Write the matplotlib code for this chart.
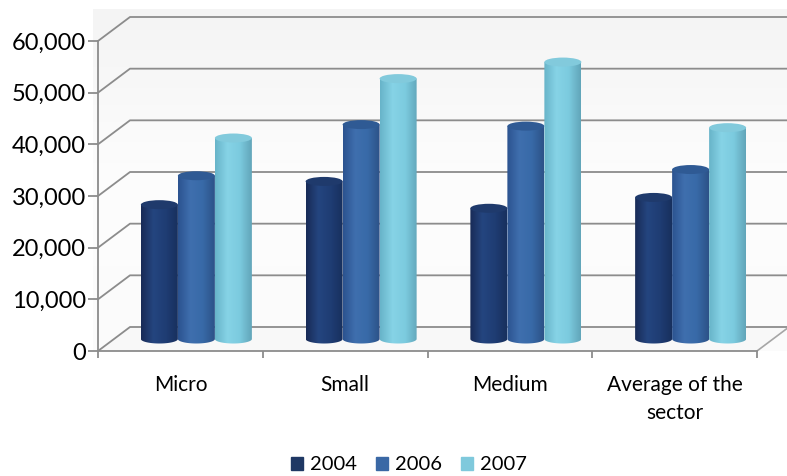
import numpy as np
import matplotlib
matplotlib.use('Agg')
import matplotlib.pyplot as plt
from matplotlib.colors import LinearSegmentedColormap
from matplotlib.patches import Patch, Ellipse, Polygon

categories = ['Micro', 'Small', 'Medium', 'Average of the\nsector']
years = ['2004', '2006', '2007']
values_2004 = [26000, 30500, 25300, 27400]
values_2006 = [31600, 41500, 41200, 32800]
values_2007 = [38900, 50400, 53600, 40900]
y_ticks = [0, 10000, 20000, 30000, 40000, 50000, 60000]

series = [values_2004, values_2006, values_2007]
legend_colors = ['#1f3864', '#3a68a5', '#7fc9dc']
bar_shades = [
    ['#182b57', '#24457f', '#1f3d74', '#18305e'],
    ['#2c5390', '#3f6fae', '#386aa8', '#2d5288'],
    ['#68b4c9', '#86d3e6', '#7ccbdf', '#62a6ba'],
]
cap_colors = ['#1f3a6c', '#2f5a94', '#82cadc']

plt.rcParams['font.family'] = ['Lato', 'DejaVu Sans']

fig = plt.figure(figsize=(7.87, 4.76), dpi=100)
ax = fig.add_axes([98 / 787, (476 - 351) / 476, 659 / 787, 310 / 476])
ax.set_xlim(0, 4)
ax.set_ylim(0, 60000)

# pixel sizes turned into data units for the fake 3d depth
px_x = 4 / 659
px_y = 60000 / 310
depth_x = 32 * px_x
depth_y = 24 * px_y
bar_w = 37 * px_x
cap_h = 9 * px_y

# walls
wall = LinearSegmentedColormap.from_list('wall', ['#fbfbfb', '#fdfdfd', '#f4f4f4'])
grad = np.linspace(0, 1, 100).reshape(-1, 1)
ax.imshow(grad, cmap=wall, origin='lower', aspect='auto', zorder=0, clip_on=False,
          extent=(-5 * px_x, 4 + 30 * px_x, 0, 60000 + depth_y + 7 * px_y))
ax.add_patch(Polygon([(0, 0), (4, 0), (4 + depth_x, depth_y), (depth_x, depth_y)],
                     closed=True, fc='#f8f8f8', ec='none', zorder=1, clip_on=False))

# gridlines on back and side wall
for t in y_ticks:
    ax.plot([0, depth_x, 4 + depth_x], [t, t + depth_y, t + depth_y],
            color='#8c8c8c', lw=1.3, zorder=2, clip_on=False)
ax.plot([4, 4 + depth_x], [0, depth_y], color='#a6a6a6', lw=1.2, zorder=2, clip_on=False)

# cylinders
theta = np.linspace(np.pi, 2 * np.pi, 40)
for i in range(len(categories)):
    center = i + 0.5 + depth_x / 2
    for k, vals in enumerate(series):
        cx = center + (k - 1) * bar_w
        base = depth_y / 2
        top = base + vals[i]
        left, right = cx - bar_w / 2, cx + bar_w / 2
        bottom_x = cx + np.cos(theta) * bar_w / 2
        bottom_y = base + np.sin(theta) * cap_h / 2
        outline = list(zip(bottom_x, bottom_y)) + [(right, top), (left, top)]
        clip = Polygon(outline, closed=True, transform=ax.transData, fc='none', ec='none')
        ax.add_patch(clip)
        cmap = LinearSegmentedColormap.from_list('bar', bar_shades[k])
        im = ax.imshow(np.linspace(0, 1, 64).reshape(1, -1), cmap=cmap, aspect='auto',
                       extent=(left, right, base - cap_h, top), zorder=3 + k * 0.1)
        im.set_clip_path(clip)
        ax.add_patch(Ellipse((cx, top), bar_w, cap_h, fc=cap_colors[k], ec='none',
                             zorder=3.05 + k * 0.1))

ax.set_xlim(0, 4)
ax.set_ylim(0, 60000)

# axes
for s in ['top', 'right']:
    ax.spines[s].set_visible(False)
for s in ['left', 'bottom']:
    ax.spines[s].set_color('#8c8c8c')
    ax.spines[s].set_linewidth(1.3)
    ax.spines[s].set_zorder(5)

ax.set_yticks(y_ticks)
ax.set_yticklabels([f'{t:,}' for t in y_ticks])
ax.set_xticks(range(5))
ax.set_xticklabels([])
ax.set_xticks([i + 0.5 for i in range(4)], minor=True)
ax.set_xticklabels(categories, minor=True, linespacing=1.55)
ax.tick_params(axis='x', which='major', length=5, width=1.3, color='#8c8c8c', direction='out')
ax.tick_params(axis='x', which='minor', length=0, pad=17, labelsize=15, labelcolor='#000000')
ax.tick_params(axis='y', length=7, width=1.3, color='#8c8c8c', pad=1.5, labelsize=17, labelcolor='#000000')

handles = [Patch(color=c, label=y) for c, y in zip(legend_colors, years)]
fig.legend(handles=handles, loc='center', bbox_to_anchor=(409 / 787, 1 - 465 / 476), ncol=3,
           frameon=False, fontsize=14.5, handlelength=0.6, handleheight=0.6,
           handletextpad=0.35, columnspacing=0.95, borderpad=0)

fig.savefig('out.png', dpi=100)
